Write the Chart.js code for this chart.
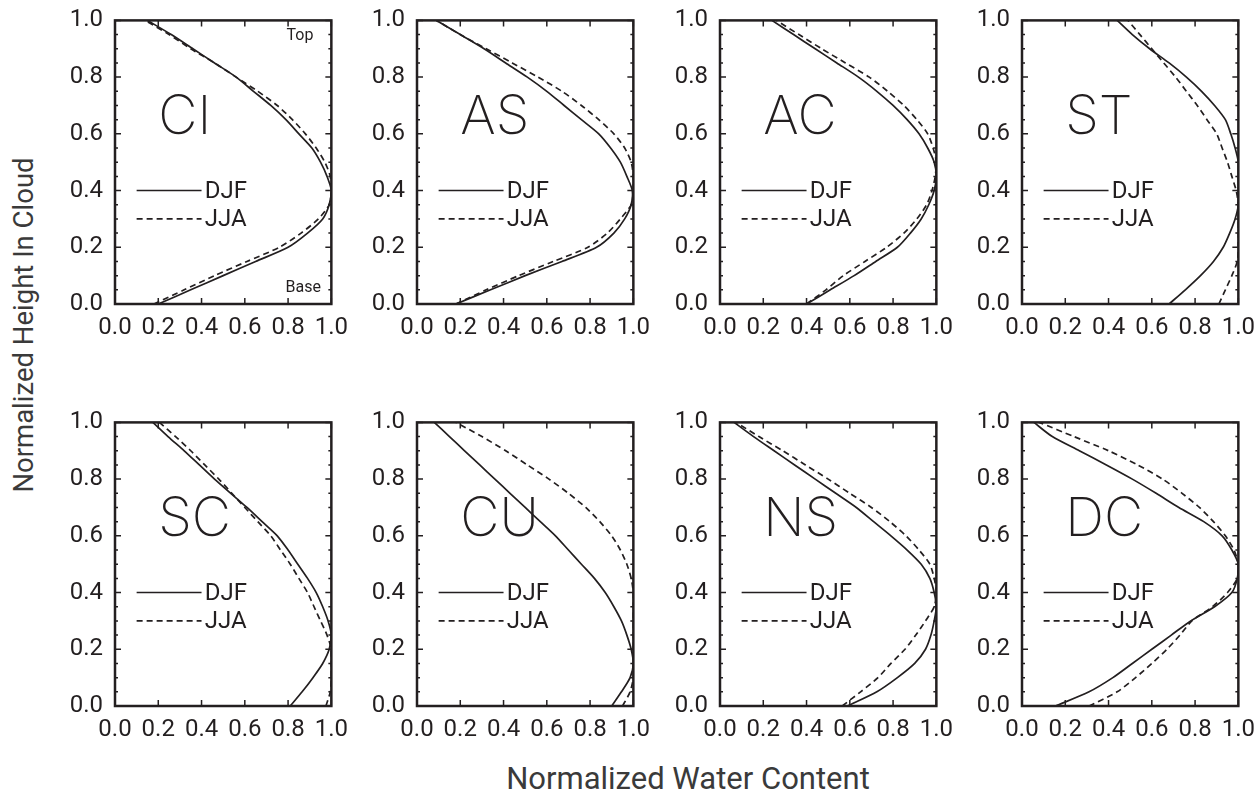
<!DOCTYPE html>
<html>
<head>
<meta charset="utf-8">
<script src="https://cdn.jsdelivr.net/npm/chart.js@4.4.1/dist/chart.umd.min.js"></script>
<style>
  body { margin: 0; background: #fff; width: 1259px; height: 794px; overflow: hidden; position: relative; font-family: Roboto, sans-serif; }
  canvas { position: absolute; }
  .title { position: absolute; white-space: nowrap; color: #3a3a3a; transform: translate(-50%, -50%); }
  #ytitle { left: 23px; top: 325px; font-size: 27.5px; transform: translate(-50%, -50%) rotate(-90deg); }
  #xtitle { left: 688px; top: 778px; font-size: 31px; }
</style>
</head>
<body>
<div class="title" id="ytitle">Normalized Height In Cloud</div>
<div class="title" id="xtitle">Normalized Water Content</div>
<script>
// normalized height in cloud (y), shared by every profile
const HEIGHTS = [0, 0.05, 0.1, 0.15, 0.2, 0.25, 0.3, 0.35, 0.4, 0.45, 0.5,
                 0.55, 0.6, 0.65, 0.7, 0.75, 0.8, 0.85, 0.9, 0.95, 1.0];
const X_TICKS = [0, 0.2, 0.4, 0.6, 0.8, 1.0];
const SEASONS = ['DJF', 'JJA'];
const CLOUD_TYPES = ['CI', 'AS', 'AC', 'ST', 'SC', 'CU', 'NS', 'DC'];

// normalized water content, one value per height
const CI_DJF = [0.20, 0.35, 0.50, 0.65, 0.80, 0.89, 0.96, 0.99, 1.00, 0.98, 0.95, 0.91, 0.85, 0.79, 0.72, 0.64, 0.56, 0.46, 0.36, 0.26, 0.15];
const CI_JJA = [0.18, 0.32, 0.46, 0.61, 0.76, 0.86, 0.94, 0.99, 1.00, 0.995, 0.97, 0.93, 0.88, 0.82, 0.75, 0.66, 0.56, 0.46, 0.35, 0.25, 0.14];
const AS_DJF = [0.18, 0.34, 0.50, 0.67, 0.83, 0.91, 0.96, 0.99, 0.995, 0.97, 0.94, 0.895, 0.84, 0.76, 0.68, 0.60, 0.51, 0.41, 0.31, 0.20, 0.09];
const AS_JJA = [0.18, 0.32, 0.47, 0.63, 0.79, 0.88, 0.94, 0.99, 1.00, 1.00, 0.99, 0.96, 0.91, 0.84, 0.76, 0.67, 0.56, 0.44, 0.32, 0.20, 0.09];
const AC_DJF = [0.40, 0.51, 0.62, 0.72, 0.82, 0.88, 0.93, 0.965, 0.99, 1.00, 0.99, 0.96, 0.92, 0.865, 0.80, 0.725, 0.64, 0.54, 0.44, 0.34, 0.24];
const AC_JJA = [0.40, 0.49, 0.57, 0.67, 0.77, 0.85, 0.91, 0.955, 0.98, 0.995, 1.00, 0.985, 0.96, 0.91, 0.85, 0.775, 0.69, 0.58, 0.47, 0.365, 0.26];
const ST_DJF = [0.68, 0.755, 0.825, 0.885, 0.93, 0.96, 0.985, 1.00, 1.00, 1.00, 1.00, 0.985, 0.965, 0.94, 0.89, 0.83, 0.76, 0.68, 0.59, 0.51, 0.44];
const ST_JJA = [0.91, 0.94, 0.97, 0.995, 1.00, 1.00, 1.00, 1.00, 0.99, 0.97, 0.95, 0.925, 0.90, 0.855, 0.81, 0.76, 0.71, 0.655, 0.60, 0.545, 0.49];
const SC_DJF = [0.81, 0.865, 0.915, 0.96, 0.99, 1.00, 0.985, 0.96, 0.93, 0.89, 0.845, 0.80, 0.75, 0.68, 0.61, 0.535, 0.46, 0.39, 0.32, 0.245, 0.175];
const SC_JJA = [0.975, 0.995, 1.00, 1.00, 1.00, 0.98, 0.95, 0.92, 0.89, 0.85, 0.81, 0.765, 0.72, 0.66, 0.60, 0.54, 0.48, 0.415, 0.35, 0.28, 0.205];
const CU_DJF = [0.90, 0.945, 0.985, 1.00, 0.99, 0.97, 0.945, 0.91, 0.87, 0.82, 0.76, 0.70, 0.64, 0.57, 0.50, 0.43, 0.36, 0.29, 0.22, 0.15, 0.08];
const CU_JJA = [0.95, 0.985, 1.00, 1.00, 1.00, 1.00, 1.00, 1.00, 1.00, 0.99, 0.97, 0.94, 0.90, 0.845, 0.78, 0.70, 0.61, 0.51, 0.41, 0.30, 0.18];
const NS_DJF = [0.59, 0.725, 0.82, 0.90, 0.95, 0.975, 0.99, 1.00, 0.99, 0.97, 0.93, 0.865, 0.79, 0.71, 0.63, 0.535, 0.44, 0.345, 0.25, 0.155, 0.065];
const NS_JJA = [0.565, 0.65, 0.73, 0.79, 0.855, 0.905, 0.95, 0.99, 1.00, 0.99, 0.97, 0.92, 0.86, 0.785, 0.70, 0.60, 0.50, 0.395, 0.29, 0.18, 0.075];
const DC_DJF = [0.155, 0.31, 0.42, 0.51, 0.60, 0.69, 0.78, 0.89, 0.97, 0.995, 1.00, 0.97, 0.925, 0.84, 0.725, 0.62, 0.51, 0.39, 0.265, 0.14, 0.055];
const DC_JJA = [0.31, 0.44, 0.525, 0.60, 0.67, 0.73, 0.785, 0.88, 0.95, 0.995, 1.00, 0.98, 0.94, 0.885, 0.82, 0.74, 0.65, 0.535, 0.40, 0.24, 0.08];

const PROFILES = {
  CI: [CI_DJF, CI_JJA], AS: [AS_DJF, AS_JJA], AC: [AC_DJF, AC_JJA], ST: [ST_DJF, ST_JJA],
  SC: [SC_DJF, SC_JJA], CU: [CU_DJF, CU_JJA], NS: [NS_DJF, NS_JJA], DC: [DC_DJF, DC_JJA],
};

const INK = '#231f20';
const TICK_FONT = { family: 'Roboto, sans-serif', size: 24 };
const DASH = [6, 4];

// plot-area geometry (page pixels)
const COL_LEFT = [115, 417, 720, 1022];
const ROW_TOP = [14, 416];
const PLOT_W = 218, PLOT_H = 290;
const PAD_L = 70, PAD_T = 20, PAD_R = 25, PAD_B = 45;

// box, inward ticks, panel name and legend
const panelDecor = {
  id: 'panelDecor',
  afterDatasetsDraw(chart, args, opts) {
    const { ctx, chartArea: a, scales: { x, y } } = chart;
    ctx.save();
    ctx.strokeStyle = INK;
    ctx.fillStyle = INK;

    ctx.lineWidth = 1.5;
    for (const v of X_TICKS) {
      const px = x.getPixelForValue(v);
      ctx.beginPath();
      ctx.moveTo(px, a.bottom); ctx.lineTo(px, a.bottom - 6);
      ctx.moveTo(px, a.top); ctx.lineTo(px, a.top + 6);
      ctx.stroke();
    }
    for (let i = 0; i <= 20; i++) {
      const py = y.getPixelForValue(i / 20);
      const len = i % 4 === 0 ? 6 : 3;
      ctx.beginPath();
      ctx.moveTo(a.left, py); ctx.lineTo(a.left + len, py);
      ctx.moveTo(a.right, py); ctx.lineTo(a.right - len, py);
      ctx.stroke();
    }
    ctx.lineWidth = 2.5;
    ctx.strokeRect(a.left, a.top, a.right - a.left, a.bottom - a.top);

    // big cloud-type label
    ctx.font = '160 54px Inter, Lato, sans-serif';
    ctx.textAlign = 'left';
    ctx.textBaseline = 'alphabetic';
    ctx.fillText(opts.name, x.getPixelForValue(0.2), y.getPixelForValue(0.6));

    // legend
    ctx.lineWidth = 1.6;
    ctx.font = '24px Roboto, sans-serif';
    ctx.textBaseline = 'middle';
    SEASONS.forEach((s, i) => {
      const py = y.getPixelForValue(0.4 - i * 0.1);
      ctx.setLineDash(i ? DASH : []);
      ctx.beginPath();
      ctx.moveTo(x.getPixelForValue(0.1), py);
      ctx.lineTo(x.getPixelForValue(0.4), py);
      ctx.stroke();
      ctx.fillText(s, x.getPixelForValue(0.415), py + 1);
    });
    ctx.setLineDash([]);

    if (opts.marks) {
      ctx.font = '16px Roboto, sans-serif';
      ctx.textAlign = 'center';
      ctx.fillText('Top', x.getPixelForValue(0.855), y.getPixelForValue(0.945));
      ctx.fillText('Base', x.getPixelForValue(0.87), y.getPixelForValue(0.055));
    }
    ctx.restore();
  },
};

CLOUD_TYPES.forEach((name, k) => {
  const row = Math.floor(k / 4), col = k % 4;
  const cv = document.createElement('canvas');
  cv.width = PAD_L + PLOT_W + PAD_R;
  cv.height = PAD_T + PLOT_H + PAD_B;
  cv.style.left = (COL_LEFT[col] - PAD_L) + 'px';
  cv.style.top = (ROW_TOP[row] - PAD_T) + 'px';
  document.body.appendChild(cv);

  const datasets = SEASONS.map((s, i) => ({
    label: s,
    data: HEIGHTS.map((h, j) => ({ x: PROFILES[name][i][j], y: h })),
    showLine: true,
    borderColor: INK,
    borderWidth: 1.7,
    borderDash: i ? DASH : [],
    pointRadius: 0,
    tension: 0.25,
  }));

  new Chart(cv, {
    type: 'scatter',
    data: { datasets },
    plugins: [panelDecor],
    options: {
      responsive: false,
      animation: false,
      devicePixelRatio: 1,
      layout: { padding: { left: 0, top: PAD_T, right: PAD_R, bottom: 0 } },
      plugins: {
        legend: { display: false },
        tooltip: { enabled: false },
        panelDecor: { name, marks: k === 0 },
      },
      scales: {
        x: {
          type: 'linear', min: 0, max: 1,
          afterFit: s => { s.height = PAD_B; },
          afterBuildTicks: s => { s.ticks = X_TICKS.map(v => ({ value: v })); },
          grid: { display: false, drawTicks: false },
          border: { display: false },
          ticks: { autoSkip: false, maxRotation: 0, padding: 10, color: INK, font: TICK_FONT, callback: v => v.toFixed(1) },
        },
        y: {
          type: 'linear', min: 0, max: 1,
          afterFit: s => { s.width = PAD_L; },
          afterBuildTicks: s => { s.ticks = X_TICKS.map(v => ({ value: v })); },
          grid: { display: false, drawTicks: false },
          border: { display: false },
          ticks: { padding: 12, color: INK, font: TICK_FONT, callback: v => v.toFixed(1) },
        },
      },
    },
  });
});
</script>
</body>
</html>
